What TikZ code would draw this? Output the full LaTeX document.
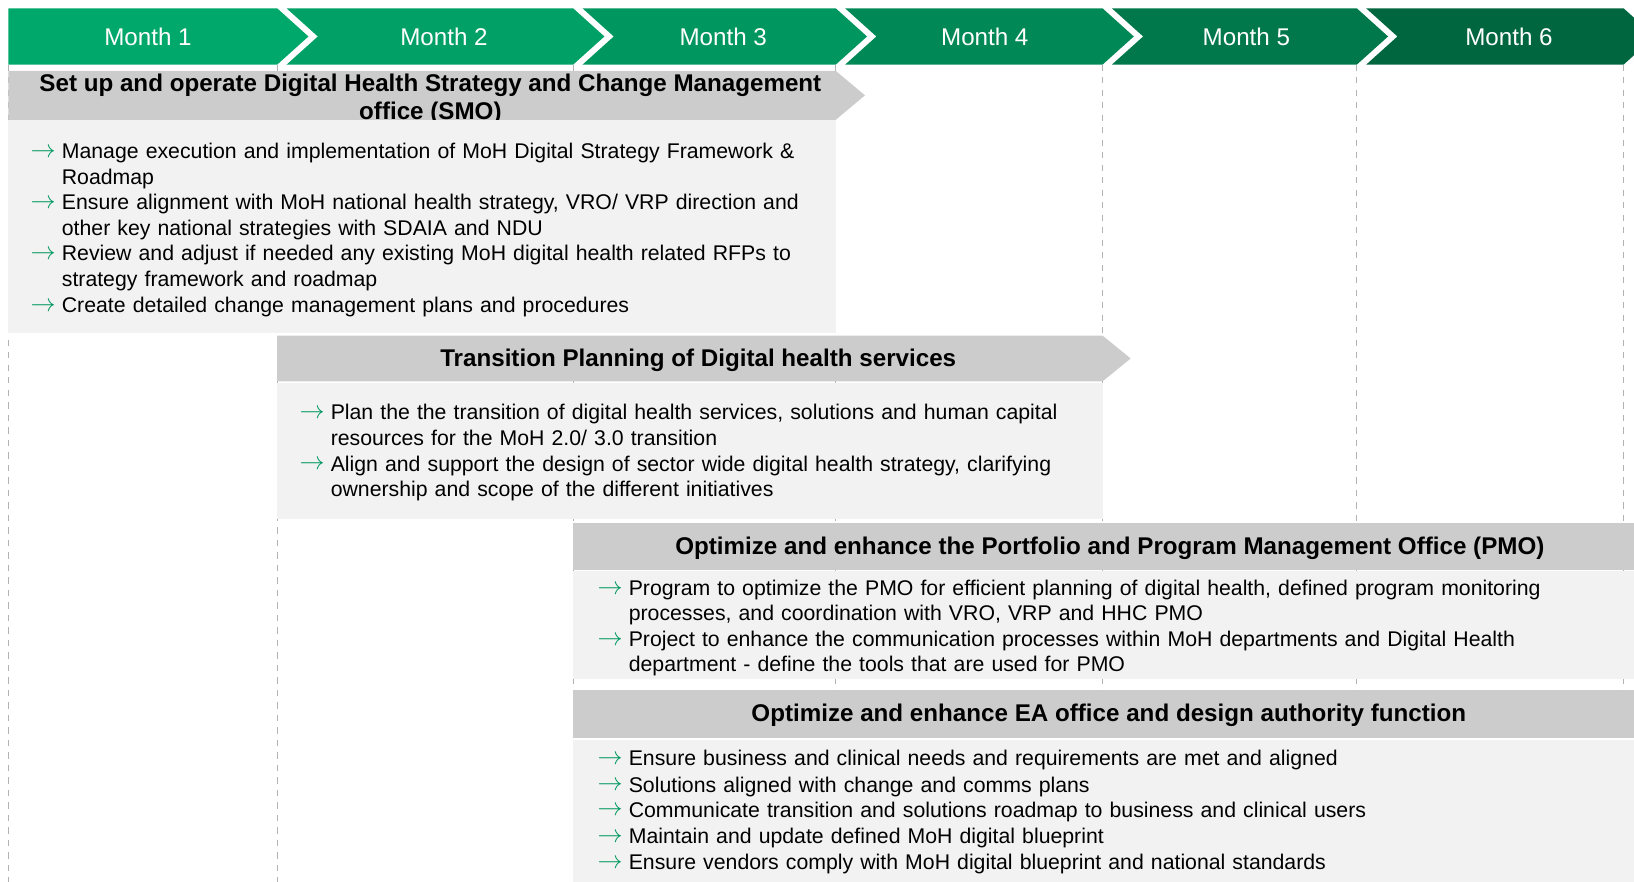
\documentclass[tikz,border=0pt]{standalone}
\usepackage{fontspec}
\setmainfont{Liberation Sans}
\usetikzlibrary{positioning}

\definecolor{mOne}{RGB}{0,168,107}
\definecolor{mTwo}{RGB}{0,160,102}
\definecolor{mThree}{RGB}{0,150,95}
\definecolor{mFour}{RGB}{0,136,86}
\definecolor{mFive}{RGB}{0,120,75}
\definecolor{mSix}{RGB}{0,102,64}
\definecolor{bandgray}{RGB}{204,204,204}
\definecolor{bodygray}{RGB}{242,242,242}
\definecolor{gridgray}{RGB}{178,178,178}
\definecolor{tipgreen}{RGB}{0,152,96}

\begin{document}
\begin{tikzpicture}[
  x=0.5pt, y=-0.5pt,
  monthlabel/.style={text=white, font=\fontsize{11.6}{14}\selectfont},
  bandtitle/.style={align=center, inner sep=0pt, font=\bfseries\fontsize{11.6}{13.5}\selectfont},
  item/.style={anchor=base west, inner sep=0pt, text width=480pt, align=left,
    font=\fontsize{10.2}{12.3}\selectfont},
  tick/.style={anchor=base west, inner sep=0pt, text=tipgreen, font=\fontsize{11.5}{12.3}\selectfont},
  grid/.style={gridgray, line width=0.5pt, dash pattern=on 3pt off 3pt}
]
\useasboundingbox (0,0) rectangle (1568,846);
\clip (0,0) rectangle (1568,846);

% month grid
\foreach \x in {8,266,550,802,1058,1302,1558}
  \draw[grid] (\x,62) -- (\x,846);

% header chevrons
\foreach \l/\r/\n/\c in {8/266/0/mOne, 275/550/30/mTwo, 559/802/30/mThree,
    811/1058/30/mFour, 1067/1302/30/mFive, 1311/1558/30/mSix}
  \fill[\c] (\l,8) -- (\r,8) -- (\r+30,35) -- (\r,62) -- (\l,62) -- (\l+\n,35) -- cycle;
\foreach \x [count=\k] in {142,426,694,945,1196,1448}
  \node[monthlabel] (month\k) at (\x,35) {Month \k};

% SMO
\fill[bandgray] (8,68) -- (802,68) -- (830,91.5) -- (802,115) -- (8,115) -- cycle;
\node[bandtitle] (smotitle) at (413,95)
  {Set up and operate Digital Health Strategy and Change Management\\office (SMO)};
\fill[bodygray] (8,115) rectangle (802,320);
\node[tick] (smoa) at (29,151) {$\rightarrow$};
\node[item] (smo1) at (59,152) {Manage execution and implementation of MoH Digital Strategy Framework \&\\Roadmap};
\node[tick] (smob) at (29,200) {$\rightarrow$};
\node[item] (smo2) at (59,201) {Ensure alignment with MoH national health strategy, VRO/ VRP direction and\\other key national strategies with SDAIA and NDU};
\node[tick] (smoc) at (29,249) {$\rightarrow$};
\node[item] (smo3) at (59,250) {Review and adjust if needed any existing MoH digital health related RFPs to\\strategy framework and roadmap};
\node[tick] (smod) at (29,299) {$\rightarrow$};
\node[item] (smo4) at (59,300) {Create detailed change management plans and procedures};

% transition planning
\fill[bandgray] (266,322) -- (1058,322) -- (1085,344) -- (1058,366) -- (266,366) -- cycle;
\node[bandtitle] (trtitle) at (670,346) {Transition Planning of Digital health services};
\fill[bodygray] (266,368) rectangle (1058,498);
\node[tick] (tra) at (287,402) {$\rightarrow$};
\node[item] (tr1) at (317,403) {Plan the the transition of digital health services, solutions and human capital\\resources for the MoH 2.0/ 3.0 transition};
\node[tick] (trb) at (287,451) {$\rightarrow$};
\node[item] (tr2) at (317,452) {Align and support the design of sector wide digital health strategy, clarifying\\ownership and scope of the different initiatives};

% PMO
\fill[bandgray] (550,502) rectangle (1568,547);
\node[bandtitle] (pmotitle) at (1065,526) {Optimize and enhance the Portfolio and Program Management Office (PMO)};
\fill[bodygray] (550,548) rectangle (1568,652);
\node[tick] (pmoa) at (573,570) {$\rightarrow$};
\node[item] (pmo1) at (603,571) {Program to optimize the PMO for efficient planning of digital health, defined program monitoring\\processes, and coordination with VRO, VRP and HHC PMO};
\node[tick] (pmob) at (573,619) {$\rightarrow$};
\node[item] (pmo2) at (603,620) {Project to enhance the communication processes within MoH departments and Digital Health\\department - define the tools that are used for PMO};

% EA office
\fill[bandgray] (550,662) rectangle (1568,708);
\node[bandtitle] (eatitle) at (1064,686) {Optimize and enhance EA office and design authority function};
\fill[bodygray] (550,710) rectangle (1568,846);
\node[tick] (eaa) at (573,734) {$\rightarrow$};
\node[item] (ea1) at (603,735) {Ensure business and clinical needs and requirements are met and aligned};
\node[tick] (eab) at (573,759) {$\rightarrow$};
\node[item] (ea2) at (603,760) {Solutions aligned with change and comms plans};
\node[tick] (eac) at (573,783) {$\rightarrow$};
\node[item] (ea3) at (603,784) {Communicate transition and solutions roadmap to business and clinical users};
\node[tick] (ead) at (573,808) {$\rightarrow$};
\node[item] (ea4) at (603,809) {Maintain and update defined MoH digital blueprint};
\node[tick] (eae) at (573,833) {$\rightarrow$};
\node[item] (ea5) at (603,834) {Ensure vendors comply with MoH digital blueprint and national standards};
\end{tikzpicture}
\end{document}
